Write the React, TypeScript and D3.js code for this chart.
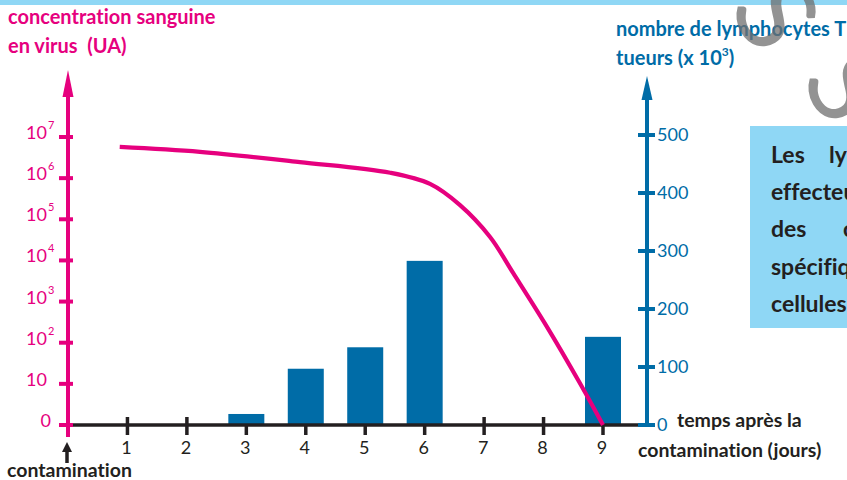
import React from "react";
import * as d3 from "d3";

// ---- data ----
const days = [1, 2, 3, 4, 5, 6, 7, 8, 9];
const virusLevels = [0, 1, 2, 3, 4, 5, 6, 7]; // log10 levels, 0 shown as "0"
const lymphoTicks = [0, 100, 200, 300, 400, 500];

// virus concentration curve (day, log10 UA)
const virusDays = [0.87, 2.22, 3.9, 5.42, 6.09, 6.59, 7.1, 7.49, 8.06, 8.61, 9.0];
const virusLog = [6.76, 6.64, 6.39, 6.13, 5.86, 5.35, 4.57, 3.69, 2.38, 1.02, 0];

// killer T lymphocytes (x 10^3)
const barDays = [3, 4, 5, 6, 9];
const barValues = [19, 97, 134, 283, 152];

const boxLines: [string, string | null][] = [
  ["Les", "lymphocytes T"],
  ["effecteurs détruisent", null],
  ["des", "cellules"],
  ["spécifiquement les", null],
  ["cellules infectées", null],
];

const PINK = "#e6007e";
const BLUE = "#006ca7";
const DARK = "#231f20";
const LIGHTBLUE = "#8fd7f5";
const FONT = "Lato, 'Open Sans', sans-serif";

export default function App() {
  const W = 847;
  const H = 480;
  const x = d3.scaleLinear().domain([0, 9]).range([68, 603]);
  const yV = d3.scaleLinear().domain([0, 7]).range([425, 137]);
  const yL = d3.scaleLinear().domain([0, 500]).range([425, 135]);

  const pts: [number, number][] = virusDays.map((d, i) => [d, virusLog[i]]);
  const line = d3
    .line<[number, number]>()
    .x((d) => x(d[0]))
    .y((d) => yV(d[1]))
    .curve(d3.curveCatmullRom.alpha(0.5));

  const barW = 36;
  const x0 = x(0);
  const xR = 647;
  const yBase = yV(0);

  return (
    <svg
      width={W}
      height={H}
      style={{ position: "absolute", left: 0, top: 0, background: "#fff", fontVariantLigatures: "none" }}
      fontFamily={FONT}
    >
      <rect x={0} y={0} width={W} height={5} fill={LIGHTBLUE} />

      {/* titles */}
      <g fill={PINK} fontWeight="bold" fontSize={20}>
        <text x={8} y={24}>concentration sanguine</text>
        <text x={8} y={53} xmlSpace="preserve">en virus  (UA)</text>
      </g>
      <g fill={BLUE} fontWeight="bold" fontSize={20}>
        <text x={616} y={36}>nombre de lymphocytes T</text>
        <text x={616} y={65}>
          tueurs (x 10<tspan dy={-9} fontSize={12}>3</tspan>
          <tspan dy={9}>)</tspan>
        </text>
      </g>

      {/* x ticks */}
      {days.map((d) => (
        <line key={"xt" + d} x1={x(d)} x2={x(d)} y1={yBase - 8} y2={yBase + 10} stroke={DARK} strokeWidth={3.5} />
      ))}

      {/* bars */}
      {barDays.map((d, i) => (
        <rect
          key={"b" + d}
          x={x(d) - barW / 2}
          y={yL(barValues[i])}
          width={barW}
          height={yBase - yL(barValues[i])}
          fill={BLUE}
        />
      ))}

      {/* x axis */}
      <line x1={x0} x2={xR - 2} y1={yBase} y2={yBase} stroke={DARK} strokeWidth={3.5} />
      {days.map((d) => (
        <text key={"xl" + d} x={x(d) - 1} y={454} fontSize={18} fill={DARK} textAnchor="middle">
          {d}
        </text>
      ))}

      {/* pink axis */}
      <line x1={x0} x2={x0} y1={95} y2={437} stroke={PINK} strokeWidth={4} />
      <path d={`M${x0},70 L${x0 + 5.5},97 L${x0 - 5.5},97 Z`} fill={PINK} />
      {virusLevels.map((v) => (
        <g key={"yv" + v}>
          <line x1={x0 - 9} x2={x0 + 5} y1={yV(v)} y2={yV(v)} stroke={PINK} strokeWidth={4} />
          {v === 0 ? (
            <text x={51} y={yV(v) + 2} fontSize={18} fill={PINK} textAnchor="end">0</text>
          ) : (
            <>
              <text x={47} y={yV(v) + 2} fontSize={18} fill={PINK} textAnchor="end">10</text>
              {v > 1 && (
                <text x={48} y={yV(v) - 8} fontSize={11} fill={PINK}>{v}</text>
              )}
            </>
          )}
        </g>
      ))}

      {/* blue axis */}
      <line x1={xR} x2={xR} y1={98} y2={427} stroke={BLUE} strokeWidth={4} />
      <path d={`M${xR},76 L${xR + 5.5},100 L${xR - 5.5},100 Z`} fill={BLUE} />
      {lymphoTicks.map((t) => (
        <g key={"yl" + t}>
          <line x1={xR - 9} x2={xR + 8} y1={yL(t)} y2={yL(t)} stroke={BLUE} strokeWidth={4} />
          <text x={657} y={yL(t) + 6} fontSize={18} fill={BLUE}>{t}</text>
        </g>
      ))}

      {/* virus curve */}
      <path d={line(pts) || ""} fill="none" stroke={PINK} strokeWidth={4.2} />

      {/* contamination marker */}
      <line x1={x0 - 1} x2={x0 - 1} y1={450} y2={463} stroke={DARK} strokeWidth={3.5} />
      <path d={`M${x0 - 1},442 L${x0 + 4},452 L${x0 - 6},452 Z`} fill={DARK} />
      <text x={7} y={477} fontSize={19.5} fontWeight="bold" fill={DARK}>contamination</text>

      {/* x axis title */}
      <g fill={DARK} fontWeight="bold" fontSize={19.5}>
        <text x={677} y={427}>temps après la</text>
        <text x={638} y={457}>contamination (jours)</text>
      </g>

      {/* text box */}
      <rect x={750} y={126} width={100} height={202} fill={LIGHTBLUE} />
      <g fill={DARK} fontWeight="bold" fontSize={23}>
        {boxLines.map((l, i) => (
          <text key={"bl" + i} x={771} y={163 + i * 37.2}>
            {l[0]}
            {l[1] && (
              <tspan x={i === 0 ? 829 : 843}>{l[1]}</tspan>
            )}
          </text>
        ))}
      </g>

      {/* watermark */}
      <g fill="#6f6f6f" opacity={0.75} fontSize={108}>
        <text transform="translate(728,8) rotate(60)">S</text>
        <text transform="translate(800,80) rotate(60)">S</text>
      </g>
    </svg>
  );
}
